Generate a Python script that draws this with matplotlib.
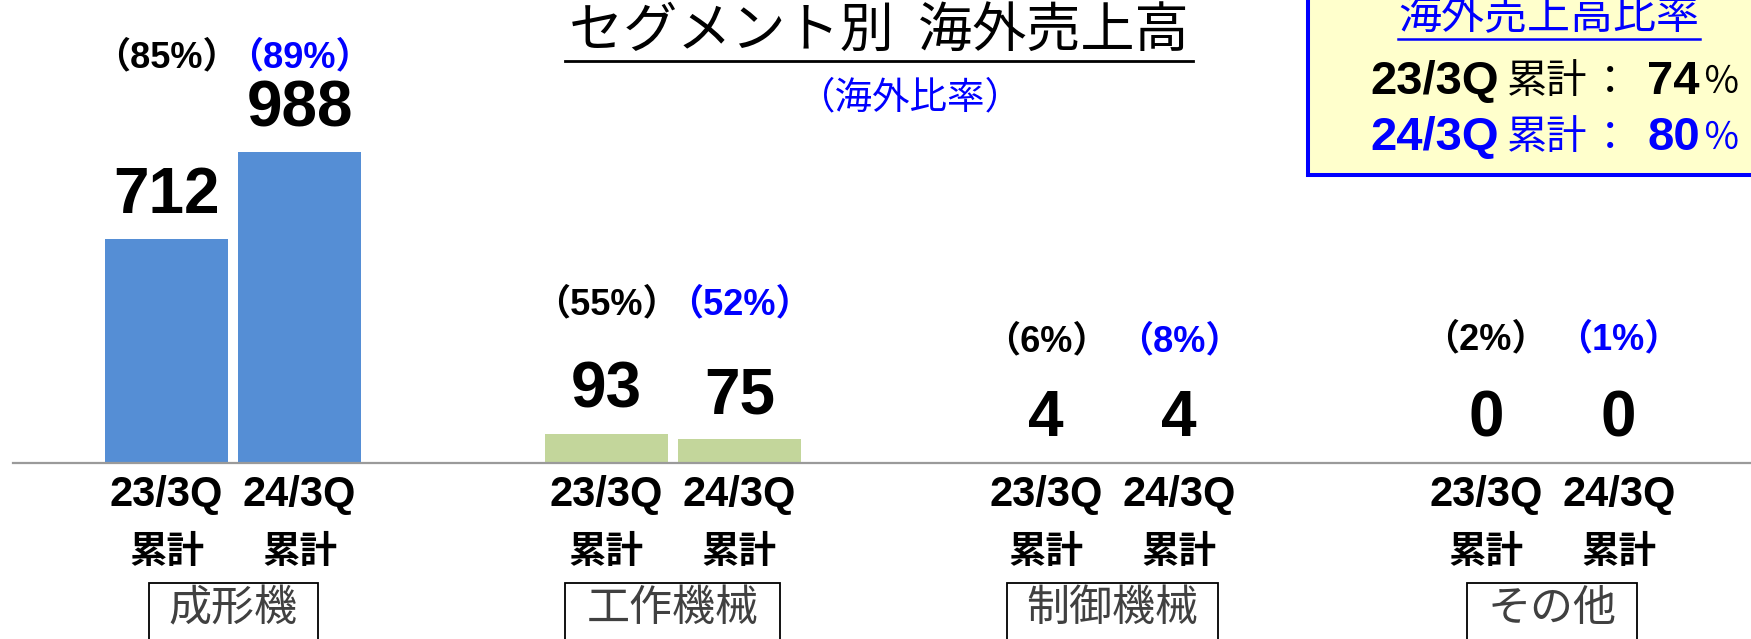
import numpy as np
import matplotlib.pyplot as plt
from matplotlib.patches import Rectangle

# データ（億円）
categories = ["成形機", "工作機械", "制御機械", "その他"]
sales_23 = [712, 93, 4, 0]
sales_24 = [988, 75, 4, 0]
ratio_23 = [85, 55, 6, 2]
ratio_24 = [89, 52, 8, 1]
periods = ["23/3Q", "24/3Q"]
total_ratio = [74, 80]

bar_colors = ["#558ED5", "#C3D69B", "#B9CDE5", "#D9D9D9"]
BLUE = "#0000FF"
LAT = ["Liberation Sans", "Noto Sans CJK JP"]
JP = ["Noto Sans CJK JP", "DejaVu Sans"]

W, H = 1751, 639
fig = plt.figure(figsize=(W / 100, H / 100), dpi=100)

# --- メインの棒グラフ ---
ax = fig.add_axes([0, 0, 1, 1])
ax.axis("off")
x0, x1 = -0.530, 3.452
ax.set_xlim(x0, x1)
ax.set_ylim(-559.3, 1471.3)

x = np.arange(len(categories))
off, bw = 0.1512, 0.2797
ax.bar(x - off, sales_23, bw, color=bar_colors)
ax.bar(x + off, sales_24, bw, color=bar_colors)
ax.axhline(0, xmin=13 / W, xmax=1, color="#9A9A9A", lw=1.6)

def fy(py):
    return 1 - py / H

pct_y = [58, 305, 342, 340]
for i in range(len(categories)):
    for xx, v, r, col, lab in [(x[i] - off, sales_23[i], ratio_23[i], "black", periods[0]),
                               (x[i] + off, sales_24[i], ratio_24[i], BLUE, periods[1])]:
        ax.annotate(f"{v}", (xx, v), xytext=(0, 31), textcoords="offset points",
                    ha="center", va="center", fontsize=46, fontweight="bold",
                    family=LAT, color="black")
        ax.text(xx, fy(pct_y[i]), f"（{r}%）", transform=ax.get_xaxis_transform(),
                ha="center", va="center", fontsize=26, fontweight="bold",
                family=LAT, color=col)
        ax.text(xx, fy(495), lab, transform=ax.get_xaxis_transform(),
                ha="center", va="center", fontsize=30, fontweight="bold", family=LAT)
        ax.text(xx, fy(552), "累計", transform=ax.get_xaxis_transform(),
                ha="center", va="center", fontsize=27, fontweight="bold", family=JP)

# --- 装飾（ピクセル座標） ---
ov = fig.add_axes([0, 0, 1, 1], zorder=5)
ov.axis("off")
ov.set_xlim(0, W)
ov.set_ylim(H, 0)
ov.patch.set_alpha(0)

box_w = [169, 215, 211, 170]
for i, cat in enumerate(categories):
    cx = (x[i] - x0) / (x1 - x0) * W
    ov.add_patch(Rectangle((cx - box_w[i] / 2, 583), box_w[i], 100,
                           fc="white", ec="black", lw=1.3))
    ov.text(cx, 609, cat, ha="center", va="center", fontsize=31,
            family=JP, color="#404040")

ov.text(879, 31, "セグメント別  海外売上高", ha="center", va="center",
        fontsize=39, family=JP, color="black")
ov.plot([565, 1193], [61, 61], color="black", lw=2)
ov.text(910, 98, "（海外比率）", ha="center", va="center",
        fontsize=27, family=JP, color=BLUE)

# 右上の海外売上高比率ボックス
ov.add_patch(Rectangle((1308, -20), 500, 195, fc="#FFFFCC", ec=BLUE, lw=2.9))
ov.text(1549, 17, "海外売上高比率", ha="center", va="center",
        fontsize=31, family=JP, color=BLUE)
ov.plot([1398, 1700], [39, 39], color=BLUE, lw=1.8)
for j, (p, r) in enumerate(zip(periods, total_ratio)):
    col = "black" if j == 0 else BLUE
    yy = 82 + 56 * j
    ov.text(1370, yy, p, ha="left", va="center", fontsize=34,
            fontweight="bold", family=LAT, color=col)
    ov.text(1507, yy, "累計", ha="left", va="center", fontsize=29,
            family=JP, color=col)
    ov.text(1610, yy, "：", ha="center", va="center", fontsize=29,
            family=JP, color=col)
    ov.text(1647, yy, f"{r}", ha="left", va="center", fontsize=34,
            fontweight="bold", family=LAT, color=col)
    ov.text(1702, yy, "％", ha="left", va="center", fontsize=27,
            family=JP, color=col)

fig.savefig("out.png", dpi=100)
